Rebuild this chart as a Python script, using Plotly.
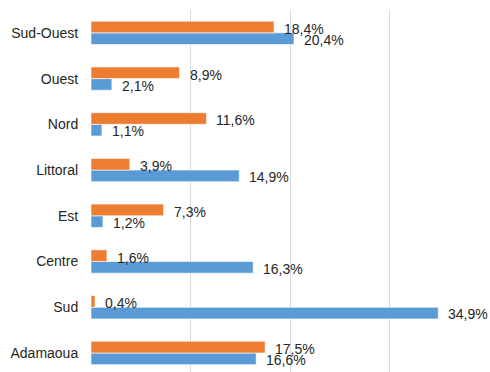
import plotly.graph_objects as go

# Regions, bottom to top as drawn on the category axis
regions = ["Adamaoua", "Sud", "Centre", "Est", "Littoral", "Nord", "Ouest", "Sud-Ouest"]
blue_values = [16.6, 34.9, 16.3, 1.2, 14.9, 1.1, 2.1, 20.4]
orange_values = [17.5, 0.4, 1.6, 7.3, 3.9, 11.6, 8.9, 18.4]

BLUE = "#5B9BD5"
ORANGE = "#ED7D31"
TEXT = "#262626"
FONT = "Liberation Sans, Arial, sans-serif"


def pct(v):
    return f"{v:.1f}".replace(".", ",") + "%"


fig = go.Figure()
fig.add_trace(go.Bar(
    y=regions, x=blue_values, orientation="h",
    marker=dict(color=BLUE, line=dict(color="rgba(255,255,255,0.6)", width=1)),
    hoverinfo="skip",
))
fig.add_trace(go.Bar(
    y=regions, x=orange_values, orientation="h",
    marker=dict(color=ORANGE, line=dict(color="rgba(255,255,255,0.6)", width=1)),
    hoverinfo="skip",
))

# Value labels just past the end of each bar
annotations = []
for name, vals, dy in (("blue", blue_values, -7), ("orange", orange_values, 4)):
    for cat, v in zip(regions, vals):
        annotations.append(dict(
            x=v, y=cat, xref="x", yref="y", text=pct(v),
            showarrow=False, xanchor="left", yanchor="middle",
            xshift=8, yshift=dy,
            font=dict(family=FONT, size=14, color=TEXT),
        ))

fig.update_layout(
    width=490, height=372,
    margin=dict(l=91, r=1, t=10, b=0),
    paper_bgcolor="white", plot_bgcolor="white",
    barmode="group", bargap=0.49, bargroupgap=0,
    showlegend=False,
    annotations=annotations,
    font=dict(family=FONT, size=14, color=TEXT),
    xaxis=dict(
        range=[0, 40], dtick=10, tick0=0,
        showgrid=True, gridcolor="#D9D9D9", gridwidth=1,
        zeroline=False, showline=False, showticklabels=False,
    ),
    yaxis=dict(
        type="category", range=[-0.416, 7.5],
        showgrid=False, zeroline=False, showline=False,
        ticks="outside", ticklen=9, tickcolor="rgba(0,0,0,0)",
        tickfont=dict(family=FONT, size=14, color=TEXT),
    ),
)

fig.write_html("out.html")
